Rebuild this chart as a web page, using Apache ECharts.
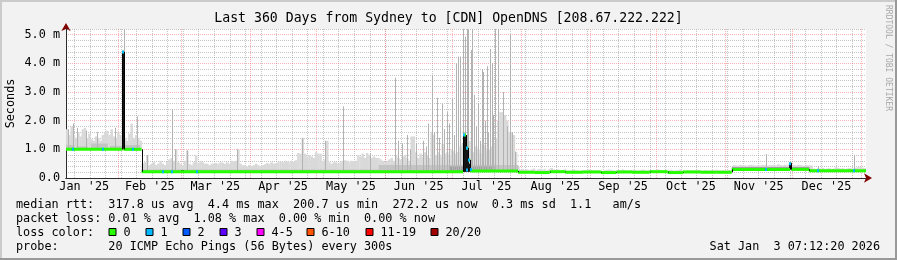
<!DOCTYPE html>
<html><head><meta charset="utf-8">
<script src="https://cdn.jsdelivr.net/npm/echarts@6/dist/echarts.min.js"></script>
<style>html,body{margin:0;padding:0;background:#f2f2f2}#c{width:897px;height:260px}</style>
</head><body><div id="c"></div>
<script>
// ---- time frame (days, Jan 1 2025 = 0) ----
const START = 7.3, END = 367.3;
const monthLabels = ["Jan '25","Feb '25","Mar '25","Apr '25","May '25","Jun '25","Jul '25","Aug '25","Sep '25","Oct '25","Nov '25","Dec '25"];
const monthMids = [15.5,45,74.5,105,135.5,166,196.5,227.5,258,288.5,319,349.5];
const monthStarts = [31,59,90,120,151,181,212,243,273,304,334,365];
const firstSunday = 11;
const yTicks = [0,1,2,3,4,5];
const yTickLabels = ['0.0','1.0 m','2.0 m','3.0 m','4.0 m','5.0 m'];

// ---- median rtt (ms), piecewise constant from each start day ----
const medianDays   = [7.3, 32.7, 33.2, 41.3, 186.0, 187.3, 188.4, 189.2, 210.7, 218, 225, 232, 240, 248, 255, 262, 270, 278, 285, 293, 300, 306.9, 333.1, 333.6, 341.7];
const medianValues = [1.0, 4.4, 1.0, 0.22, 1.5, 1.05, 0.63, 0.24, 0.2, 0.19, 0.22, 0.2, 0.21, 0.19, 0.21, 0.2, 0.22, 0.19, 0.21, 0.2, 0.2, 0.3, 0.5, 0.3, 0.255];

// ---- loss marks on the median ----
const lossDays   = [10.3, 23.8, 32.95, 37.3, 50.8, 54.9, 66.1, 186.4, 187.9, 188.8, 187.9, 189.4, 322.3, 333.3, 345.9, 362.0];
const lossValues = [1.0, 1.0, 4.4, 1.0, 0.22, 0.22, 0.22, 1.5, 1.05, 0.63, 0.28, 0.3, 0.3, 0.5, 0.255, 0.255];
const lossCounts = [1,1,1,1,1,1,1,1,1,1,1,1,1,1,1,1];

// ---- smoke: per-day upper envelope (ms) ----
const smokeLight = [
 1.7,1.5,1.8,1.5,1.4,1.6,1.45,1.7,1.75,1.4,
 1.55,1.35,1.3,1.45,1.4,1.3,1.5,1.6,1.65,1.5,
 1.7,1.45,1.35,1.6,1.5,1.4,1.4,1.3,1.55,1.9,
 1.4,1.5,1.4,1.3,
 0.5,0.55,0.8,0.45,0.5,0.55,0.45,0.5,0.6,0.5,
 0.45,0.55,0.65,0.7,0.6,1.0,0.55,0.5,0.45,0.6,
 0.95,0.5,0.45,0.55,0.8,0.5,
 0.6,0.55,0.5,0.5,0.45,0.5,0.5,0.52,0.5,0.55,
 0.53,0.5,0.55,0.5,0.6,0.58,0.6,1.0,0.5,0.45,
 0.45,0.4,0.45,0.42,0.45,0.5,0.45,0.4,0.45,0.48,
 0.52,0.5,0.55,0.5,0.52,0.55,0.57,0.55,0.6,0.57,
 0.55,0.6,0.57,0.62,0.87,0.85,1.4,0.85,0.75,0.8,
 0.75,0.7,0.9,0.85,0.85,0.6,0.65,1.3,0.55,0.5,
 0.55,0.55,0.5,0.55,0.6,0.62,0.6,0.55,0.6,0.58,
 0.6,0.8,0.75,0.85,0.7,0.87,0.8,0.7,0.75,0.7,
 0.7,0.65,0.6,0.55,0.6,0.65,0.7,0.6,
 0.8,0.7,0.65,0.75,0.8,0.7,0.6,1.45,1.45,0.9,
 0.7,0.85,0.75,0.9,0.8,0.7,1.6,1.5,0.8,0.9,
 0.75,1.2,0.85,0.9,0.8,1.0,0.95,0.85,0.9,1.1,
 1.2,1.4,1.5,1.3,1.0,0.9,1.1,1.0,0.85,1.2,
 1.15,0.95,1.0,1.1,1.2,1.4,2.0,2.3,2.3,2.2,
 2.0,1.6,1.6,1.5,0.9,0.4,
 0.3,0.32,0.28,0.3,0.27,0.3,0.33,0.28,0.3,0.32,
 0.29,0.3,0.27,0.31,0.35,0.3,0.28,0.3,0.26,0.28,
 0.3,0.27,0.26,0.28,0.3,0.27,0.26,0.25,0.28,0.27,
 0.26,0.3,0.28,0.26,0.27,0.28,0.26,0.25,0.27,0.28,
 0.3,0.28,0.27,0.26,0.28,0.27,0.3,0.28,0.26,0.27,
 0.28,0.29,0.27,0.26,0.28,0.3,0.27,0.26,0.28,0.27,
 0.27,0.28,0.3,0.27,0.26,0.28,0.27,0.29,0.28,0.26,
 0.27,0.28,0.3,0.27,0.26,0.28,0.27,0.26,0.28,0.27,
 0.28,0.27,0.26,0.28,0.27,0.26,0.28,0.27,0.29,0.27,
 0.26,0.28,0.27,0.26,0.28,0.27,
 0.45,0.44,0.43,0.46,0.45,0.44,0.43,0.45,0.46,0.44,
 0.43,0.45,0.44,0.46,0.45,0.43,0.44,0.45,0.46,0.44,
 0.48,0.45,0.44,0.46,0.45,0.5,0.46,0.45,0.44,0.46,
 0.45,0.43,0.44,0.45,0.44,0.43,
 0.33,0.32,0.34,0.33,0.35,0.32,0.33,0.34,0.32,0.33,
 0.38,0.35,0.33,0.34,0.32,0.33,0.35,0.34,0.33,0.36,
 0.38,0.4,0.36,0.34
];
// denser smoke bands: start day, end day, top (ms)
const midBandStart = [7.3, 12.5, 18.5, 27, 33.5, 41.3, 148, 210.7, 341.7];
const midBandEnd   = [11, 17, 26, 32.5, 40.5, 148, 210.7, 306.9, 367.3];
const midBandTop   = [1.15, 1.1, 1.2, 1.12, 1.15, 0.3, 0.45, 0.24, 0.3];
const darkBandStart = [180, 306.9];
const darkBandEnd   = [200, 341.7];
const darkBandTop   = [0.4, 0.38];

// thin smoke spikes: day, top (ms)
const spikeDays = [8.2,10.45,12.1,16.3,21.1,29.35,33.6,39.4,43.9,54.8,56.35,61.6,84.4,113.4,123.9,131.8,144.1,
 155.4,156.7,158.4,160.75,162.1,164.8,168.1,169.3,170.2,171.9,172.7,174.1,175.15,176.35,177.4,178.6,179.65,180.85,181.7,
 182.8,183.85,184.6,185.8,187.0,187.6,188.3,189.4,189.85,190.9,191.8,192.85,193.6,194.35,195.1,195.85,196.6,197.2,198.1,
 198.85,199.45,200.35,201.85,203.95,205.95,207.1,208.0,209.35,322.3,345.9,362.05];
const spikeTops = [1.7,1.9,1.75,1.65,1.6,1.75,5.3,2.15,0.8,2.4,1.0,0.97,1.0,1.4,1.3,2.5,0.87,
 3.5,1.3,1.2,1.5,1.0,1.2,1.3,1.1,1.9,3.6,1.6,2.8,1.4,2.6,1.7,2.3,1.9,2.76,1.5,
 4.0,4.24,4.24,5.3,4.94,5.3,5.17,4.47,5.3,2.9,1.8,2.6,1.3,3.8,3.7,2.0,3.9,1.6,4.5,
 4.0,2.2,5.3,5.3,3.0,1.8,5.0,1.6,0.92,0.84,0.42,0.8];

// near-black dense smoke: day, low, top (ms)
const darkDays = [32.95, 59.6, 186.4, 187.0, 187.6, 188.3, 333.1];
const darkLows = [1.0, 0.2, 0.22, 0.22, 0.22, 0.22, 0.3];
const darkTops = [4.4, 0.28, 1.5, 1.3, 1.0, 0.5, 0.53];

const lossColors = ['#26ff00','#00b8ff','#0059ff','#5e00ff','#ff00ff','#ff5500','#ff0000','#a10000'];
const lossLabels = ['0','1','2','3','4-5','6-10','11-19','20/20'];

// ---------------------------------------------------------------
const MONO = '"DejaVu Sans Mono", monospace';
const FS = 11.8;

function medianAt(d){
  let v = medianValues[0];
  for (let k=0;k<medianDays.length;k++){ if (medianDays[k] <= d) v = medianValues[k]; else break; }
  return v;
}
const smokeData = smokeLight.map((t,i)=>{
  const d0 = START + i, d1 = d0 + 1;
  return [d0, d1, Math.min(medianAt(d0+0.01), medianAt(d1-0.01)), t];
});
const midData = midBandStart.map((s,k)=>[s, midBandEnd[k], Math.min(medianAt(s+0.01), medianAt(midBandEnd[k]-0.01)), midBandTop[k]]);
const darkBandData = darkBandStart.map((s,k)=>[s, darkBandEnd[k], Math.min(medianAt(s+0.01), medianAt(darkBandEnd[k]-0.01)), darkBandTop[k]]);
const spikeData = spikeDays.map((d,k)=>[d, medianAt(d), spikeTops[k]]);
const darkData = darkDays.map((d,k)=>[d, darkLows[k], darkTops[k]]);
const medSegs = medianDays.map((d,k)=>[d, k+1<medianDays.length?medianDays[k+1]:END, medianValues[k], k>0?medianValues[k-1]:medianValues[k]]);
const lossData = lossDays.map((d,k)=>[d, lossValues[k], lossCounts[k]]);

function bandRenderer(color){
  return function(params, api){
    const a = api.coord([api.value(0), api.value(2)]);
    const b = api.coord([api.value(1), api.value(3)]);
    return {type:'rect', shape:{x:Math.min(a[0],b[0]), y:Math.min(a[1],b[1]), width:Math.abs(b[0]-a[0])+0.3, height:Math.abs(b[1]-a[1])}, style:{fill:color}};
  };
}
function vlineRenderer(color, width){
  return function(params, api){
    const a = api.coord([api.value(0), api.value(1)]);
    const b = api.coord([api.value(0), api.value(2)]);
    const x = Math.round(a[0]) + (width%2 ? 0.5 : 0);
    return {type:'line', shape:{x1:x, y1:a[1], x2:x, y2:b[1]}, style:{stroke:color, lineWidth:width}};
  };
}

// grid lines
const gridMarks = [];
for (let d = firstSunday; d < END; d += 7) gridMarks.push({xAxis:d, lineStyle:{color:'rgba(150,150,150,0.55)', type:[1,1], width:1}});
for (let k = 1; k <= 26; k++) if (k % 5) gridMarks.push({yAxis:+(k*0.2).toFixed(1), lineStyle:{color:'rgba(150,150,150,0.55)', type:[1,1], width:1}});
monthStarts.forEach(d=>gridMarks.push({xAxis:d, lineStyle:{color:'rgba(255,90,90,0.45)', type:[1,1], width:1}}));
yTicks.slice(1).forEach(v=>gridMarks.push({yAxis:v, lineStyle:{color:'rgba(255,90,90,0.45)', type:[1,1], width:1}}));

const chart = echarts.init(document.getElementById('c'), null, {renderer:'canvas'});

const legendRows = [
  {y:204.5, t:'median rtt:  317.8 us avg  4.4 ms max  200.7 us min  272.2 us now  0.3 ms sd  1.1   am/s'},
  {y:218.5, t:'packet loss: 0.01 % avg  1.08 % max  0.00 % min  0.00 % now'},
  {y:232.5, t:'loss color:'},
  {y:246.5, t:'probe:       20 ICMP Echo Pings (56 Bytes) every 300s'}
];
const boxX = [108.5,145.5,182.5,219.5,256.5,306.5,365.5,430.5];
const graphics = [
  {type:'rect', shape:{x:0,y:0,width:897,height:2}, style:{fill:'#cbcbcb'}, silent:true},
  {type:'rect', shape:{x:0,y:0,width:2,height:260}, style:{fill:'#cbcbcb'}, silent:true},
  {type:'rect', shape:{x:0,y:258,width:897,height:2}, style:{fill:'#999999'}, silent:true},
  {type:'rect', shape:{x:895,y:0,width:2,height:260}, style:{fill:'#999999'}, silent:true},
  {type:'text', x:888.5, y:5, rotation:-Math.PI/2, style:{text:'RRDTOOL / TOBI OETIKER', fontFamily:MONO, fontSize:8, fill:'#a8a8a8', align:'left', verticalAlign:'middle'}},
  {type:'text', x:880, y:246.5, style:{text:'Sat Jan  3 07:12:20 2026', fontFamily:MONO, fontSize:FS, fill:'#000', align:'right', verticalAlign:'middle'}}
];
legendRows.forEach(r=>graphics.push({type:'text', x:16, y:r.y, style:{text:r.t, fontFamily:MONO, fontSize:FS, fill:'#000', align:'left', verticalAlign:'middle'}}));
lossLabels.forEach((l,k)=>{
  graphics.push({type:'rect', shape:{x:boxX[k]+0.5, y:228.5, width:7, height:7}, style:{fill:lossColors[k], stroke:'#000', lineWidth:1}});
  graphics.push({type:'text', x:boxX[k]+15, y:232.5, style:{text:l, fontFamily:MONO, fontSize:FS, fill:'#000', align:'left', verticalAlign:'middle'}});
});

chart.setOption({
  animation:false,
  backgroundColor:'#f2f2f2',
  title:{text:'Last 360 Days from Sydney to [CDN] OpenDNS [208.67.222.222]', left:'center', top:12, padding:0,
         textStyle:{fontFamily:MONO, fontSize:13.2, fontWeight:'normal', color:'#000', lineHeight:14}},
  grid:{left:66, right:31, top:29, bottom:82, show:true, backgroundColor:'#ffffff', borderWidth:0, containLabel:false, outerBoundsMode:'none'},
  xAxis:[
    {type:'value', min:START, max:END, position:'bottom', z:0,
     axisLine:{show:true, lineStyle:{color:'#800000', width:1}, symbol:['none','arrow'], symbolSize:[7,8], symbolOffset:[0,6]},
     axisTick:{show:false}, axisLabel:{show:false}, splitLine:{show:false}},
    {type:'value', min:START, max:END, position:'bottom', z:1,
     axisLine:{show:true, lineStyle:{color:'#2c2c2c', width:1}},
     axisTick:{show:false}, splitLine:{show:false},
     axisLabel:{customValues:monthMids, margin:3, fontFamily:MONO, fontSize:FS, color:'#000',
                formatter:v=>{const k=monthMids.indexOf(v); return k>=0?monthLabels[k]:'';}}}
  ],
  yAxis:[
    {type:'value', min:0, max:5.2, interval:1, position:'left', z:1,
     name:'Seconds', nameLocation:'middle', nameGap:49, nameRotate:90, nameMoveOverlap:false,
     nameTextStyle:{fontFamily:MONO, fontSize:FS, color:'#000'},
     axisLine:{show:true, lineStyle:{color:'#2c2c2c', width:1}},
     axisTick:{show:false}, splitLine:{show:false},
     axisLabel:{margin:6, fontFamily:MONO, fontSize:FS, color:'#000',
                formatter:v=>{const k=yTicks.indexOf(Math.round(v*1000)/1000); return k>=0?yTickLabels[k]:'';}}},
    {type:'value', min:0, max:5.2, position:'left', z:0,
     axisLine:{show:true, lineStyle:{color:'#800000', width:1}, symbol:['none','arrow'], symbolSize:[7,8], symbolOffset:[0,6]},
     axisTick:{show:false}, axisLabel:{show:false}, splitLine:{show:false}}
  ],
  graphic:graphics,
  series:[
    {type:'line', xAxisIndex:1, yAxisIndex:0, data:[[START,0]], symbol:'none', lineStyle:{opacity:0}, z:1, silent:true,
     markLine:{z:1, silent:true, symbol:['none','none'], label:{show:false}, animation:false, data:gridMarks}},
    {type:'custom', name:'smoke', xAxisIndex:1, yAxisIndex:0, clip:true, z:2, renderItem:bandRenderer('#d9d9d9'), data:smokeData, silent:true},
    {type:'custom', name:'smoke mid', xAxisIndex:1, yAxisIndex:0, clip:true, z:2, renderItem:bandRenderer('#c4c4c4'), data:midData, silent:true},
    {type:'custom', name:'smoke dark', xAxisIndex:1, yAxisIndex:0, clip:true, z:2, renderItem:bandRenderer('#a0a0a0'), data:darkBandData, silent:true},
    {type:'custom', name:'spikes', xAxisIndex:1, yAxisIndex:0, clip:true, z:3, renderItem:vlineRenderer('#b2b2b2',1), data:spikeData, silent:true},
    {type:'custom', name:'dense', xAxisIndex:1, yAxisIndex:0, clip:true, z:3, renderItem:vlineRenderer('#151515',3), data:darkData, silent:true},
    {type:'custom', name:'median', xAxisIndex:1, yAxisIndex:0, clip:true, z:4, silent:true, data:medSegs,
     renderItem:function(params, api){
       const p0 = api.coord([api.value(0), api.value(2)]);
       const p1 = api.coord([api.value(1), api.value(2)]);
       const pp = api.coord([api.value(0), api.value(3)]);
       const ch = [{type:'rect', shape:{x:p0[0], y:p0[1]-1.5, width:Math.max(p1[0]-p0[0],1), height:3}, style:{fill:lossColors[0]}}];
       if (Math.abs(pp[1]-p0[1]) > 0.5) {
         const x = Math.round(p0[0]) + 0.5;
         ch.push({type:'line', shape:{x1:x, y1:pp[1], x2:x, y2:p0[1]}, style:{stroke:'#000', lineWidth:1}});
       }
       return {type:'group', children:ch};
     }},
    {type:'custom', name:'loss', xAxisIndex:1, yAxisIndex:0, clip:true, z:5, silent:true, data:lossData,
     renderItem:function(params, api){
       const p = api.coord([api.value(0), api.value(1)]);
       return {type:'rect', shape:{x:Math.round(p[0])-1, y:p[1]-1.5, width:2, height:3}, style:{fill:lossColors[api.value(2)]}};
     }}
  ]
});
</script></body></html>
